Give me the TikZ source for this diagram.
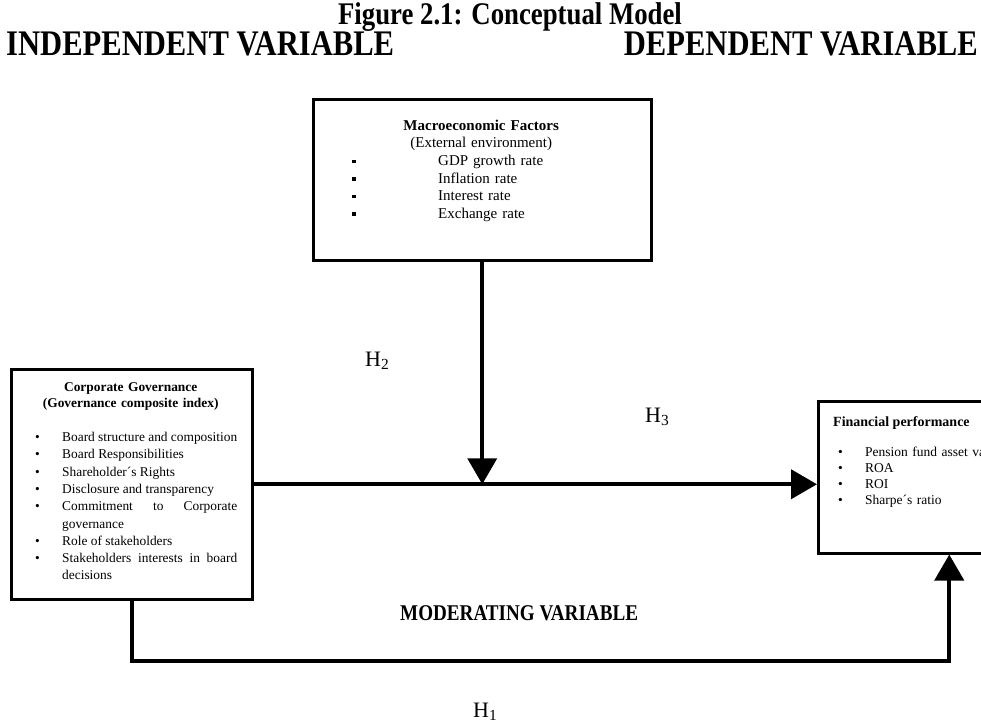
\documentclass[tikz,border=0pt]{standalone}
\usepackage{fontspec}
\setmainfont{Liberation Serif}
\newfontfamily\condfont[FakeStretch=0.85]{Liberation Serif}
\usetikzlibrary{arrows.meta,positioning,calc}

\tikzset{
  framebox/.style={draw, line width=2.5pt, inner sep=0pt, anchor=north west},
  link/.style={line width=4pt},
  linkarrow/.style={link, -{Triangle[width=29pt,length=26pt]}},
  hyp/.style={anchor=base west, inner sep=0pt, font=\fontsize{22}{24}\selectfont},
  heading/.style={inner sep=0pt, font=\condfont\bfseries\fontsize{36}{38}\selectfont},
  boxtext/.style={inner sep=0pt, anchor=base west}
}
\newcommand{\sqbullet}{\rule[2.5pt]{3.5pt}{3.5pt}}
\newcommand{\cgitem}[1]{\noindent\hyphenpenalty=10000\relax\tolerance=10000\relax
  \hangindent=27pt\relax\hangafter=1\relax\makebox[27pt][l]{\textbullet}#1\par}

\begin{document}
\begin{tikzpicture}[x=1pt,y=-1pt]
  \useasboundingbox (0,0) rectangle (981,724);
  \clip (0,0) rectangle (981,724);

  % Headings
  \node[inner sep=0pt, anchor=base, font=\condfont\bfseries\fontsize{31.5}{33}\selectfont] (fig) at (510,24) {Figure 2.1: Conceptual Model};
  \node[heading, anchor=base west] (indep) at (6,55) {INDEPENDENT VARIABLE};
  \node[heading, anchor=base east] (dep) at (978,55) {DEPENDENT VARIABLE};

  % Macroeconomic factors (moderator)
  \node[framebox, minimum width=338pt, minimum height=161pt] (macro) at (312,98) {};
  \node[boxtext, text width=338pt, align=center, font=\fontsize{15}{17.6}\selectfont] (macrotitle) at (312,130)
    {\textbf{Macroeconomic Factors}\\(External environment)};
  \node[boxtext, text width=250pt, align=left, font=\fontsize{15}{17.6}\selectfont] (macrolist) at (352,165.5)
    {\makebox[86pt][l]{\sqbullet}GDP growth rate\\
     \makebox[86pt][l]{\sqbullet}Inflation rate\\
     \makebox[86pt][l]{\sqbullet}Interest rate\\
     \makebox[86pt][l]{\sqbullet}Exchange rate};

  % Corporate governance (independent)
  \node[framebox, minimum width=241pt, minimum height=230pt] (cg) at (10,368) {};
  \node[boxtext, text width=241pt, align=center, font=\bfseries\fontsize{13.4}{16}\selectfont] (cgtitle) at (10,391.5)
    {Corporate Governance\\(Governance composite index)};
  \node[boxtext, text width=202pt, align=justify, font=\fontsize{13.4}{17.3}\selectfont] (cglist) at (35,441.5)
    {\cgitem{Board structure and composition}
     \cgitem{Board Responsibilities}
     \cgitem{Shareholder´s Rights}
     \cgitem{Disclosure and transparency}
     \cgitem{Commitment to Corporate governance}
     \cgitem{Role of stakeholders}
     \cgitem{Stakeholders interests in board decisions}};

  % Financial performance (dependent)
  \node[framebox, minimum width=262pt, minimum height=152pt] (fin) at (817,400) {};
  \node[boxtext, font=\bfseries\fontsize{14}{16}\selectfont] (fintitle) at (833,426.5) {Financial performance};
  \node[boxtext, text width=240pt, align=left, font=\fontsize{13.5}{16}\selectfont] (finlist) at (838,456.5)
    {\makebox[27pt][l]{\textbullet}Pension fund asset value\\
     \makebox[27pt][l]{\textbullet}ROA\\
     \makebox[27pt][l]{\textbullet}ROI\\
     \makebox[27pt][l]{\textbullet}Sharpe´s ratio};

  % Connectors
  \coordinate (join) at (cg.east -| macro.south);
  \draw[linkarrow] (cg.east) -- (cg.east -| fin.west);
  \draw[linkarrow] (macro.south) -- (join);
  \draw[linkarrow] (cg.south) -- ++(0,60) -| (fin.south);

  % Hypotheses and labels
  \node[hyp] (h2) at (365,366.5) {H\textsubscript{2}};
  \node[hyp] (h3) at (645,422.5) {H\textsubscript{3}};
  \node[hyp] (h1) at (473,717) {H\textsubscript{1}};
  \node[boxtext, font=\condfont\bfseries\fontsize{22.5}{24}\selectfont] (mod) at (400,620.5) {MODERATING VARIABLE};
\end{tikzpicture}
\end{document}
